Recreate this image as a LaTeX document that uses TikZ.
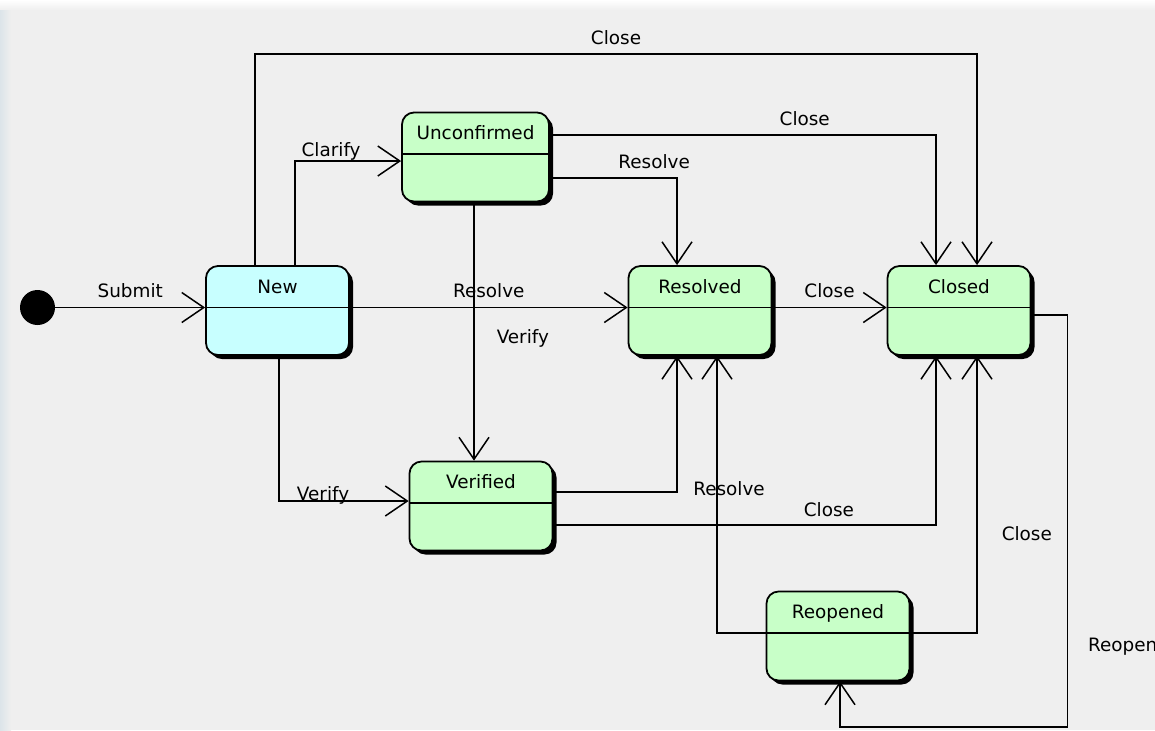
\documentclass[tikz,border=0pt]{standalone}
\usepackage{fontspec}
\setmainfont{DejaVu Sans}
\usetikzlibrary{arrows.meta,shadows}
\definecolor{bggray}{HTML}{EFEFEF}
\definecolor{newcyan}{HTML}{C8FFFF}
\definecolor{stgreen}{HTML}{C8FFC8}
\definecolor{edgeblue}{HTML}{DCE4E9}
\begin{document}
\begin{tikzpicture}[x=0.5pt,y=-0.5pt,
  state/.style={draw,line width=0.9pt,rounded corners=6pt,fill=stgreen,
    minimum width=71.5pt,minimum height=44.5pt,inner sep=0pt,
    text height=7pt,text depth=24.5pt,font=\fontsize{9.2}{11}\selectfont,
    drop shadow={shadow xshift=2pt,shadow yshift=-2pt,fill=black,opacity=1},
    path picture={\draw[line width=0.75pt] ([yshift=1.5pt]path picture bounding box.west)
      -- ([yshift=1.5pt]path picture bounding box.east);}},
  trans/.style={line width=0.75pt,-{Straight Barb[length=11pt,width=15pt]}},
  lbl/.style={font=\fontsize{9.2}{11}\selectfont,inner sep=0pt,text depth=0pt}]
\useasboundingbox (0,0) rectangle (1155,730);
\clip (0,0) rectangle (1155,730);
\fill[bggray] (0,0) rectangle (1155,730);
\shade[top color=white,bottom color=bggray] (0,0) rectangle (1155,10);
\shade[left color=edgeblue,right color=bggray] (0,10) rectangle (11,730);

\node[circle,fill=black,minimum size=17.5pt,inner sep=0pt] (init) at (37.5,307.5) {};
\node[state,fill=newcyan] (new) at (277.5,310.5) {New};
\node[state,minimum width=73.5pt] (unconf) at (475.5,157) {Unconfirmed};
\node[state] (resolved) at (700,310.5) {Resolved};
\node[state] (closed) at (959,310.5) {Closed};
\node[state] (verified) at (481,506) {Verified};
\node[state] (reopened) at (838,636) {Reopened};

\draw[trans] (init) -- ([yshift=1.5pt]new.west) node[lbl,midway,above=4.5pt] {Submit};
\draw[trans] ([xshift=8.75pt]new.north) |- ([yshift=-2pt]unconf.west) node[lbl,pos=0.67,above=2pt] {Clarify};
\draw[trans] ([xshift=-11.25pt]new.north) -- ++(0,-211) -| ([xshift=9pt]closed.north) node[lbl,pos=0.25,above=4.5pt] {Close};
\draw[trans] ([yshift=1.5pt]new.east) -- ([yshift=1.5pt]resolved.west) node[lbl,midway,above=4.5pt] {Resolve};
\draw[trans] ([xshift=0.75pt]new.south) |- ([yshift=2.5pt]verified.west) node[lbl,pos=0.67,above=0pt] {Verify};
\draw[trans] ([xshift=-0.75pt]unconf.south) -- ([xshift=-3.5pt]verified.north) node[lbl,pos=0.52,right=11pt] {Verify};
\draw[trans] ([yshift=11pt]unconf.east) -| ([xshift=-11.5pt]closed.north) node[lbl,pos=0.33,above=4.5pt] {Close};
\draw[trans] ([yshift=-10.5pt]unconf.east) -| ([xshift=-11.5pt]resolved.north) node[lbl,pos=0.41,above=4.5pt] {Resolve};
\draw[trans] ([yshift=1.5pt]resolved.east) -- ([yshift=1.5pt]closed.west) node[lbl,midway,above=4.5pt] {Close};
\draw[trans] ([yshift=7pt]verified.east) -| ([xshift=-11.5pt]resolved.south);
\draw[trans] ([yshift=-9.5pt]verified.east) -| ([xshift=-11.5pt]closed.south) node[lbl,pos=0.36,above=4pt] {Close};
\draw[trans] ([yshift=1.5pt]reopened.west) -| ([xshift=8.5pt]resolved.south) node[lbl,pos=0.76,xshift=6pt] {Resolve};
\draw[trans] ([yshift=1.5pt]reopened.east) -| ([xshift=9pt]closed.south) node[lbl,pos=0.68,right=12pt] {Close};
\draw[trans] ([yshift=-2.25pt]closed.east) -- ++(36,0) -- ++(0,412) node[lbl,pos=0.8,right=10pt] {Reopen} -| ([xshift=1pt]reopened.south);
\end{tikzpicture}
\end{document}
